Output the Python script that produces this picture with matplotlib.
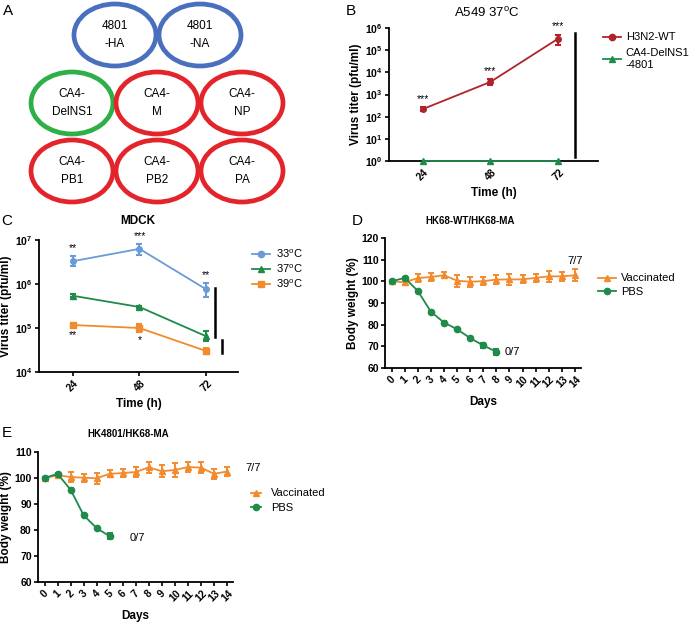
import matplotlib.pyplot as plt
import numpy as np
from matplotlib.patches import Ellipse
from matplotlib.lines import Line2D

plt.rcParams['font.family'] = ['Liberation Sans', 'DejaVu Sans']
plt.rcParams['mathtext.fontset'] = 'custom'
plt.rcParams['mathtext.rm'] = 'Liberation Sans'
plt.rcParams['mathtext.bf'] = 'Liberation Sans:bold'

# ---------------- dados ----------------
# Painel A: segmentos do virus
seg_labels = ['4801\n-HA', '4801\n-NA', 'CA4-\nDelNS1', 'CA4-\nM', 'CA4-\nNP',
              'CA4-\nPB1', 'CA4-\nPB2', 'CA4-\nPA']
seg_colors = ['#4a6fbf', '#4a6fbf', '#2eaf48', '#e3242b', '#e3242b',
              '#e3242b', '#e3242b', '#e3242b']

# Painel B: A549 37oC
hours = ['24', '48', '72']
b_wt = [220, 3700, 3.3e5]
b_wt_lo = [175, 2700, 1.8e5]
b_wt_hi = [270, 5000, 5.0e5]
b_delns1 = [1, 1, 1]

# Painel C: MDCK
c_33 = [3.3e6, 6.3e6, 7.6e5]
c_33_lo = [2.6e6, 4.6e6, 5.0e5]
c_33_hi = [4.3e6, 8.0e6, 1.05e6]
c_37 = [5.4e5, 3.0e5, 6.5e4]
c_37_lo = [5.0e5, 2.8e5, 5.0e4]
c_37_hi = [5.8e5, 3.2e5, 8.4e4]
c_39 = [1.17e5, 1.0e5, 3.0e4]
c_39_lo = [1.08e5, 8.0e4, 2.5e4]
c_39_hi = [1.26e5, 1.25e5, 3.5e4]

# Paineis D e E: peso corporal
days = np.arange(15)
d_vac = [100, 99.6, 101.5, 102.0, 102.8, 100.3, 99.8, 100.1, 100.8, 100.9, 100.9, 101.6, 102.3, 102.3, 102.8]
d_vac_sd = [0.5, 1.2, 1.8, 1.8, 1.3, 2.8, 2.4, 2.0, 2.0, 2.4, 1.8, 1.7, 2.6, 2.0, 2.8]
d_pbs = [100, 101.6, 95.6, 86.0, 81.0, 77.9, 73.8, 70.4, 67.5]
d_pbs_sd = [0.3, 0.4, 0.5, 0.5, 0.5, 0.5, 0.5, 1.2, 1.5]

e_vac = [100, 101.0, 100.4, 100.1, 99.9, 101.6, 101.9, 102.3, 104.1, 102.6, 103.1, 104.2, 104.0, 101.6, 102.5]
e_vac_sd = [0.5, 0.8, 1.8, 1.6, 2.2, 1.4, 1.6, 1.8, 2.0, 2.4, 2.6, 2.0, 2.2, 2.0, 1.7]
e_pbs = [100, 101.6, 95.5, 85.7, 80.7, 77.6]
e_pbs_sd = [0.3, 0.4, 0.5, 0.5, 0.5, 1.2]

W, H = 690, 624
fig = plt.figure(figsize=(W / 100, H / 100), dpi=100)

vermelho = '#b0232a'
verde = '#1f8a4a'
azul = '#6b9bd6'
laranja = '#f28a2e'
TICK = 7.5


def rect(l, t, r, b):
    return [l / W, 1 - b / H, (r - l) / W, (b - t) / H]


def estilo(ax):
    for s in ['top', 'right']:
        ax.spines[s].set_visible(False)
    for s in ['left', 'bottom']:
        ax.spines[s].set_linewidth(1.3)
    ax.tick_params(direction='out', length=3, width=1.2, labelsize=TICK, pad=1.5)
    for lb in ax.get_yticklabels():
        lb.set_fontweight('bold')


def rot_x(ax, labels):
    ax.set_xticklabels(labels, rotation=45, ha='center', fontweight='bold', fontsize=TICK)


def handle(cor, mk):
    return Line2D([], [], color=cor, marker=mk, ms=4.5, lw=1.3)


# camada de fundo para textos e painel A
bg = fig.add_axes([0, 0, 1, 1])
bg.set_xlim(0, W)
bg.set_ylim(H, 0)
bg.axis('off')

seg_pos = [(115, 35), (200, 35), (72, 103), (157, 103), (242, 103),
           (72, 171), (157, 171), (242, 171)]
for (cx, cy), lab, cor in zip(seg_pos, seg_labels, seg_colors):
    bg.add_patch(Ellipse((cx, cy), 82, 62, fill=False, ec=cor, lw=3.4))
    bg.text(cx, cy, lab, ha='center', va='center', fontsize=8.5, linespacing=1.6)

for lt, x, y in [('A', 8, 11), ('B', 351, 11), ('C', 7, 221), ('D', 357, 221), ('E', 7, 433)]:
    bg.text(x, y, lt, fontsize=11, ha='center', va='center')

# titulos dos paineis
bg.text(487, 13, r'A549 37$^\mathrm{o}$C', fontsize=9.5, ha='center', va='center')
bg.text(138, 221, 'MDCK', fontsize=8.5, fontweight='bold', ha='center', va='center')
bg.text(470, 221, 'HK68-WT/HK68-MA', fontsize=7, fontweight='bold', ha='center', va='center')
bg.text(128, 434, 'HK4801/HK68-MA', fontsize=7, fontweight='bold', ha='center', va='center')

# ---------------- Painel B ----------------
axb = fig.add_axes(rect(389, 28, 598, 161))
x = np.arange(3)
axb.errorbar(x, b_wt, yerr=[np.subtract(b_wt, b_wt_lo), np.subtract(b_wt_hi, b_wt)],
             color=vermelho, marker='o', ms=4, lw=1.3, capsize=2.5, elinewidth=1.5,
             capthick=1.5, clip_on=False)
axb.plot(x, b_delns1, color=verde, marker='^', ms=4, lw=1.3, clip_on=False, zorder=5)
axb.set_yscale('log')
axb.set_ylim(1, 1e6)
axb.set_xlim(-0.5, 2.59)
axb.set_yticks([10.0 ** k for k in range(7)])
axb.set_yticklabels([r'$\mathbf{10^{%d}}$' % k for k in range(7)])
axb.minorticks_off()
axb.set_xticks(x)
estilo(axb)
rot_x(axb, hours)
axb.set_xlabel('Time (h)', fontsize=8.5, fontweight='bold', labelpad=3)
axb.set_ylabel('Virus titer (pfu/ml)', fontsize=8.5, fontweight='bold', labelpad=2)
for xi, v in zip(x, b_wt_hi):
    axb.text(xi, v * 1.4, '***', ha='center', va='bottom', fontsize=7.5)
axb.plot([2.25, 2.25], [1.5, 6e5], color='black', lw=1.8, clip_on=False)
axb.legend([handle(vermelho, 'o'), handle(verde, '^')], ['H3N2-WT', 'CA4-DelNS1\n-4801'],
           loc='upper left', bbox_to_anchor=(599 / W, 1 - 28 / H), bbox_transform=fig.transFigure,
           frameon=False, fontsize=8, handlelength=1.6, handletextpad=0.4, labelspacing=0.5,
           borderaxespad=0)

# ---------------- Painel C ----------------
axc = fig.add_axes(rect(39, 240, 238, 372))
for vals, lo, hi, cor, mk in [
        (c_33, c_33_lo, c_33_hi, azul, 'o'),
        (c_37, c_37_lo, c_37_hi, verde, '^'),
        (c_39, c_39_lo, c_39_hi, laranja, 's')]:
    axc.errorbar(x, vals, yerr=[np.subtract(vals, lo), np.subtract(hi, vals)],
                 color=cor, marker=mk, ms=4, lw=1.3, capsize=2.5, elinewidth=1.5,
                 capthick=1.5)
axc.set_yscale('log')
axc.set_ylim(1e4, 1e7)
axc.set_xlim(-0.51, 2.48)
axc.set_yticks([1e4, 1e5, 1e6, 1e7])
axc.set_yticklabels([r'$\mathbf{10^{%d}}$' % k for k in range(4, 8)])
axc.minorticks_off()
axc.set_xticks(x)
estilo(axc)
rot_x(axc, hours)
axc.set_xlabel('Time (h)', fontsize=8.5, fontweight='bold', labelpad=3)
axc.set_ylabel('Virus titer (pfu/ml)', fontsize=8.5, fontweight='bold', labelpad=2)
for xi, v, s in zip(x, c_33_hi, ['**', '***', '**']):
    axc.text(xi, v * 1.2, s, ha='center', va='bottom', fontsize=7.5, clip_on=False)
for xi, v, s in zip(x[:2], c_39_lo, ['**', '*']):
    axc.text(xi, v * 0.85, s, ha='center', va='top', fontsize=7.5)
axc.plot([2.135, 2.135], [6.3e4, 8.2e5], color='black', lw=1.8, clip_on=False)
axc.plot([2.24, 2.24], [2.7e4, 5.4e4], color='black', lw=1.8, clip_on=False)
axc.legend([handle(azul, 'o'), handle(verde, '^'), handle(laranja, 's')],
           [r'33$^\mathrm{o}$C', r'37$^\mathrm{o}$C', r'39$^\mathrm{o}$C'],
           loc='upper left', bbox_to_anchor=(248 / W, 1 - 243 / H), bbox_transform=fig.transFigure,
           frameon=False, fontsize=8, handlelength=1.6, handletextpad=0.5, labelspacing=0.25,
           borderaxespad=0)


# ---------------- Paineis D e E ----------------
def peso(ax, vac, vac_sd, pbs, pbs_sd, ymax):
    ax.errorbar(days, vac, yerr=vac_sd, color=laranja, marker='^', ms=4, lw=1.3,
                capsize=2.5, elinewidth=1.4, capthick=1.4)
    ax.errorbar(days[:len(pbs)], pbs, yerr=pbs_sd, color=verde, marker='o', ms=4.5, lw=1.3,
                capsize=2.5, elinewidth=1.4, capthick=1.4)
    ax.set_ylim(60, ymax)
    ax.set_yticks(np.arange(60, ymax + 1, 10))
    ax.set_xlim(-0.5, 14.46)
    ax.set_xticks(days)
    estilo(ax)
    rot_x(ax, [str(d) for d in days])
    ax.set_xlabel('Days', fontsize=8.5, fontweight='bold', labelpad=5)
    ax.set_ylabel('Body weight (%)', fontsize=8.5, fontweight='bold', labelpad=2)


axd = fig.add_axes(rect(385, 238, 581, 368))
peso(axd, d_vac, d_vac_sd, d_pbs, d_pbs_sd, 120)
axd.text(14, d_vac[14] + d_vac_sd[14] + 1.5, '7/7', ha='center', va='bottom', fontsize=8)
axd.text(8.6, d_pbs[8], '0/7', ha='left', va='center', fontsize=8)
axd.legend([handle(laranja, '^'), handle(verde, 'o')], ['Vaccinated', 'PBS'],
           loc='upper left', bbox_to_anchor=(594 / W, 1 - 269 / H), bbox_transform=fig.transFigure,
           frameon=False, fontsize=8, handlelength=1.6, handletextpad=0.4, labelspacing=0.3,
           borderaxespad=0)

axe = fig.add_axes(rect(38, 452, 233, 582))
peso(axe, e_vac, e_vac_sd, e_pbs, e_pbs_sd, 110)
axe.text(15.4, 103.8, '7/7', ha='left', va='center', fontsize=8, clip_on=False)
axe.text(6.5, 77.0, '0/7', ha='left', va='center', fontsize=8)
axe.legend([handle(laranja, '^'), handle(verde, 'o')], ['Vaccinated', 'PBS'],
           loc='upper left', bbox_to_anchor=(247 / W, 1 - 484 / H), bbox_transform=fig.transFigure,
           frameon=False, fontsize=8, handlelength=0.9, handletextpad=0.9, labelspacing=0.4,
           borderaxespad=0)

fig.savefig('out.png', dpi=100)
